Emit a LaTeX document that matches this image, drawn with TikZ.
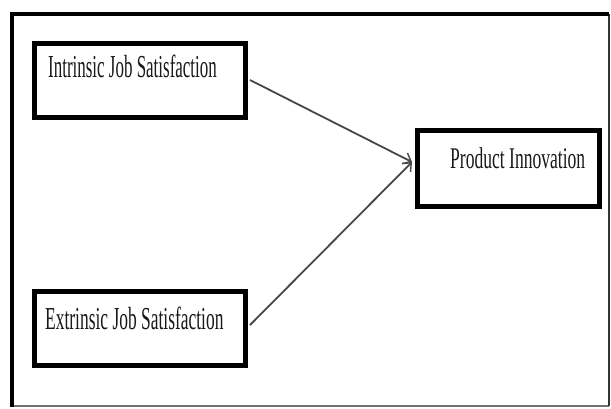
\documentclass[tikz,border=0pt]{standalone}
\usepackage{fontspec}
\setmainfont{Liberation Serif}
\usepackage{graphicx}
\usetikzlibrary{arrows.meta}
\tikzset{
  boxframe/.style={draw=black, line width=5pt, inner sep=0pt, anchor=north west},
  lbl/.style={anchor=base west, inner sep=0pt, text=black!90,
    font=\fontsize{32}{32}\selectfont},
  link/.style={draw=black!72, line width=1.8pt, -{Straight Barb[length=7pt,width=12pt,line width=1.4pt]}}
}
\begin{document}
\begin{tikzpicture}[x=1pt,y=-1pt]
\useasboundingbox (0,0) rectangle (611,408);
\fill[white] (0,0) rectangle (611,408);
% outer frame
\draw[line width=1.5pt, black!55] (12,406) -- (608.5,406);
\draw[line width=2pt, black!80] (608.5,14) -- (608.5,406);
\draw[line width=4.5pt, black] (12,407) -- (12,14) -- (609,14);
% boxes
\node[boxframe, minimum width=211pt, minimum height=74pt] (ijs) at (31.5,40.5) {};
\node[boxframe, minimum width=211pt, minimum height=74pt] (ejs) at (31.5,288.5) {};
\node[boxframe, minimum width=182pt, minimum height=76pt] (pi) at (414.5,127.5) {};
% texts
\node[lbl] (t1) at (48,77) {\scalebox{0.53}[1]{Intrinsic Job Satisfaction}};
\node[lbl] (t2) at (45,329) {\scalebox{0.545}[1]{Extrinsic Job Satisfaction}};
\node[lbl, font=\fontsize{30}{30}\selectfont] (t3) at (450,168) {\scalebox{0.585}[1]{Product Innovation}};
% connectors
\path[link] ([xshift=2.5pt]ijs.east |- 0,80) -- ([xshift=-2.5pt]pi.west |- 0,162);
\path[link] ([xshift=2.5pt]ejs.east |- 0,325) -- ([xshift=-2.5pt]pi.west |- 0,162);
\end{tikzpicture}
\end{document}
